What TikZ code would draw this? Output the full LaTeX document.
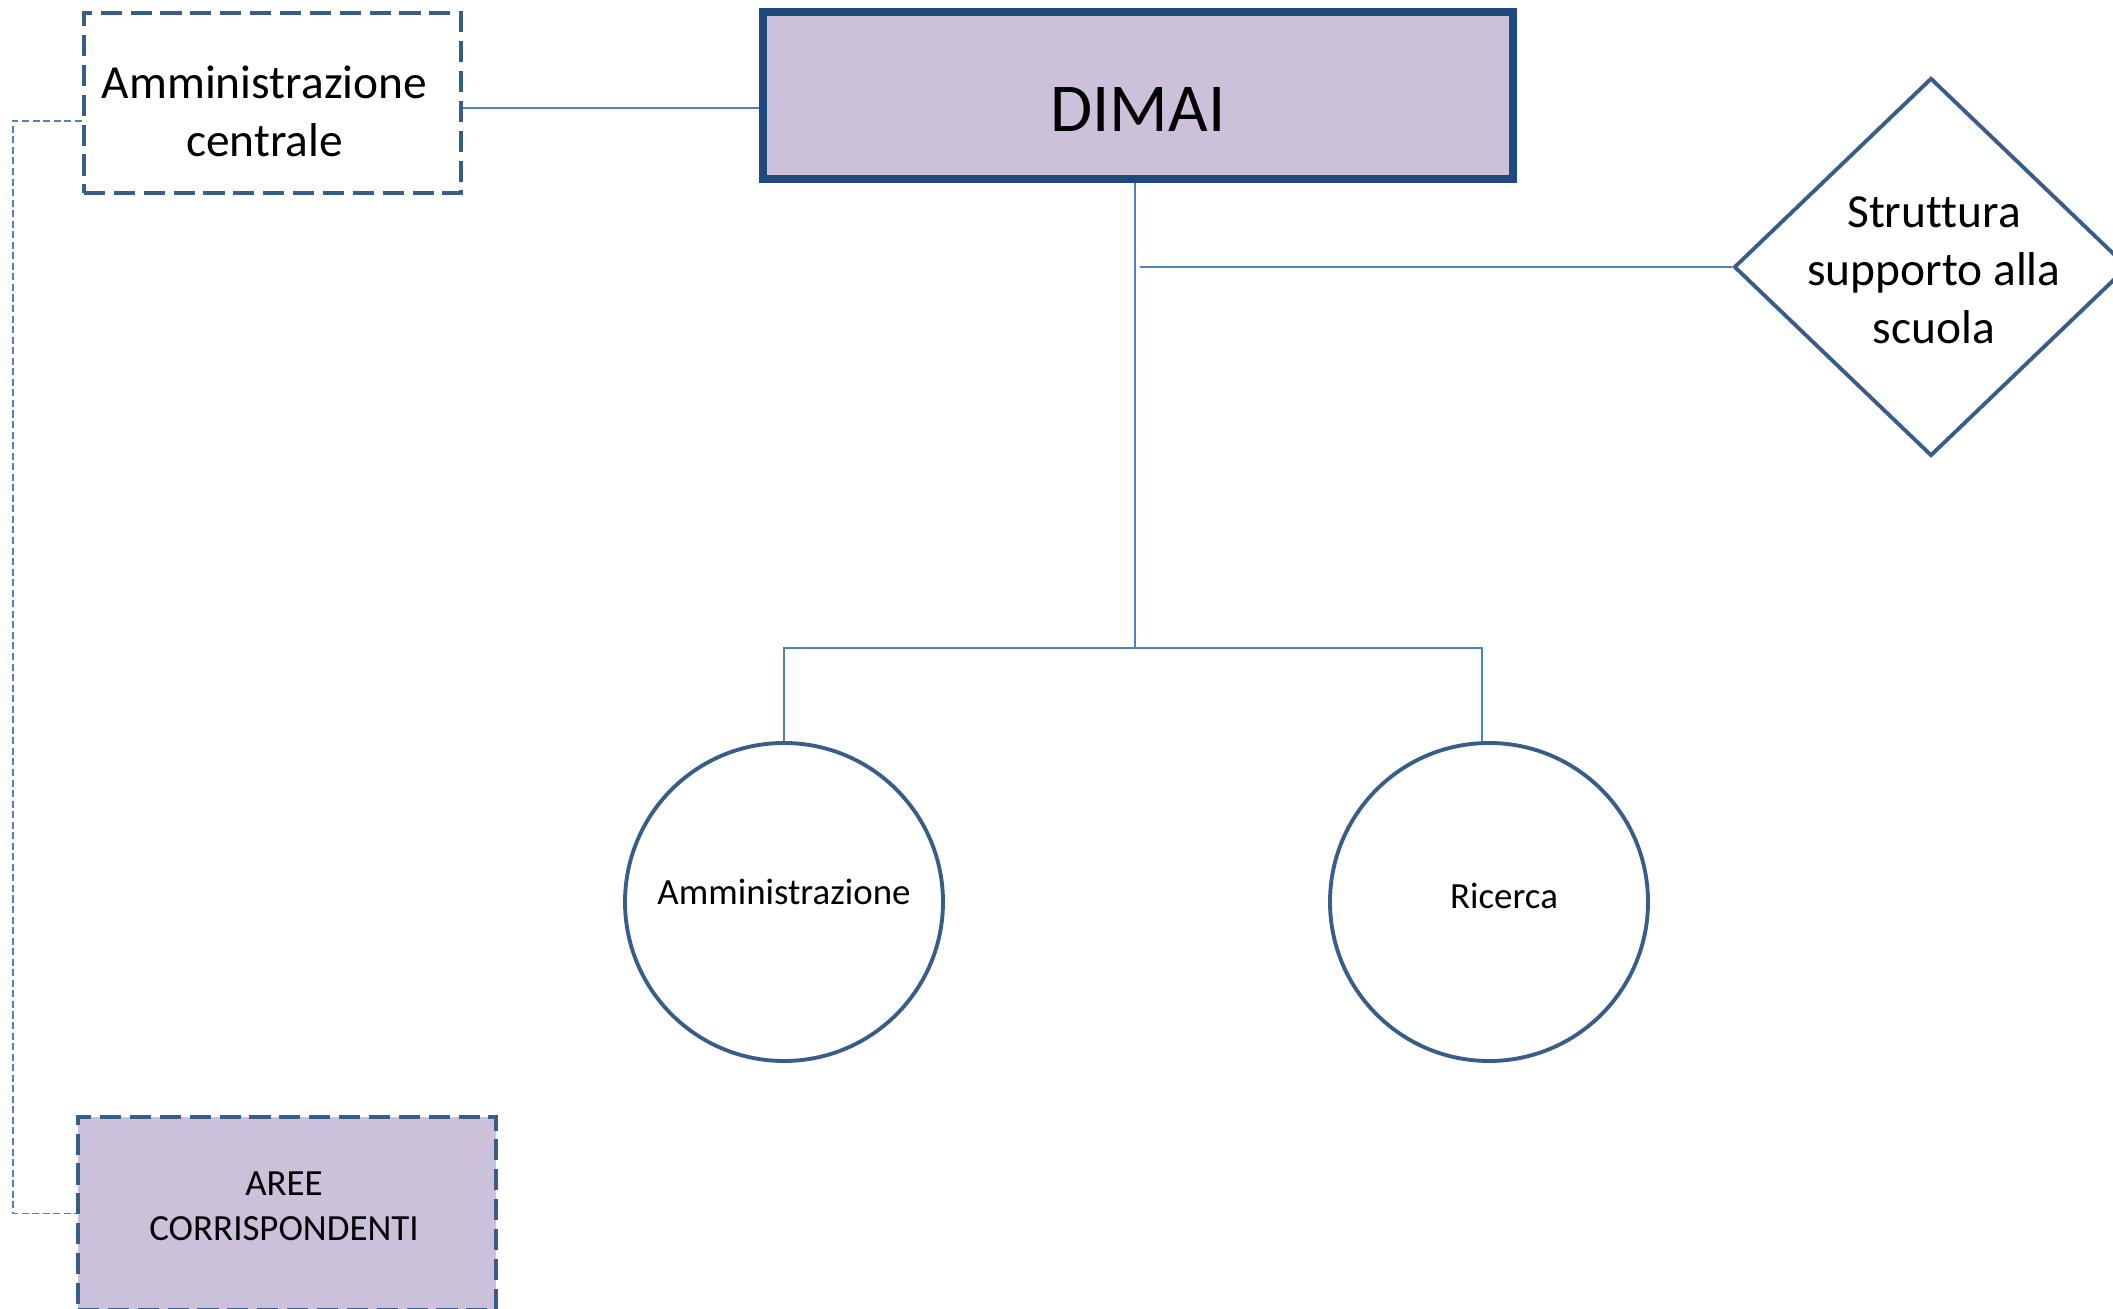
\documentclass[tikz,border=0pt]{standalone}
\usepackage{fontspec}
\setmainfont{Carlito}[Ligatures=NoCommon]
\usetikzlibrary{shapes.geometric,calc,positioning}
\definecolor{boxblue}{HTML}{385D8A}
\definecolor{darkblue}{HTML}{1F497D}
\definecolor{linkblue}{HTML}{4F81BD}
\definecolor{lilla}{HTML}{CCC1DA}

\begin{document}
\begin{tikzpicture}[
    dashbox/.style={draw=boxblue, line width=1.3pt, dash pattern=on 6pt off 2.5pt, align=center, inner sep=0pt},
    unit/.style={circle, draw=boxblue, line width=1.1pt, minimum size=3.18cm, inner sep=0pt},
    link/.style={draw=linkblue, line width=0.6pt},
    dotlink/.style={draw=linkblue, line width=0.5pt, dash pattern=on 2pt off 1pt},
    big/.style={font=\fontsize{13.5}{16.5}\selectfont},
    small/.style={font=\fontsize{10.5}{12.8}\selectfont}
  ]
  \useasboundingbox (0,0) rectangle (21.13,-13.09);
  \clip (0,0) rectangle (21.13,-13.09);
  % box
  \node[draw=darkblue, fill=lilla, line width=2.2pt, minimum width=7.5cm, minimum height=1.67cm,
        label={[font=\fontsize{19.5}{24}\selectfont, yshift=-0.14cm]center:DIMAI}] (dimai) at (11.38,-0.955) {};
  \node[dashbox, minimum width=3.77cm, minimum height=1.8cm,
        label={[big, align=center, xshift=-0.08cm, yshift=-0.08cm]center:Amministrazione\\centrale}]
        (centrale) at (2.725,-1.03) {};
  \node[dashbox, fill=lilla, minimum width=4.18cm, minimum height=1.93cm,
        label={[small, align=center, xshift=-0.03cm, yshift=0.07cm]center:AREE\\CORRISPONDENTI}]
        (aree) at (2.87,-12.135) {};
  % rombo
  \node[diamond, draw=boxblue, line width=1.1pt, minimum width=3.94cm, minimum height=3.78cm,
        inner sep=0pt] (scuola) at (19.31,-2.67) {};
  \node[big, align=center] (scuolatxt) at ($(scuola.center)+(0.03,-0.03)$)
        {Struttura\\supporto alla\\scuola};
  % cerchi
  \node[unit, label={[small, yshift=0.1cm]center:Amministrazione}] (amm) at (7.84,-9.02) {};
  \node[unit, label={[small, xshift=0.15cm, yshift=0.06cm]center:Ricerca}] (ric) at (14.89,-9.02) {};
  % linee
  \coordinate (ce) at ($(centrale.east)+(0,-0.05)$);
  \coordinate (bus) at (11.35,-6.48);
  \coordinate (stem) at (11.40,-2.65);
  \coordinate (cl) at ($(centrale.west)+(0,-0.18)$);
  \draw[link] (ce) -- (ce -| dimai.west);
  \draw[link] (dimai.south -| bus) -- (bus);
  \draw[link] (stem |- scuola.west) -- (scuola.west);
  \draw[link] (amm.north) |- (bus) -| ($(ric.north)+(-0.07,0)$);
  \draw[dotlink] (cl) -- ++(-0.69,0) |- (aree.west);
\end{tikzpicture}
\end{document}
